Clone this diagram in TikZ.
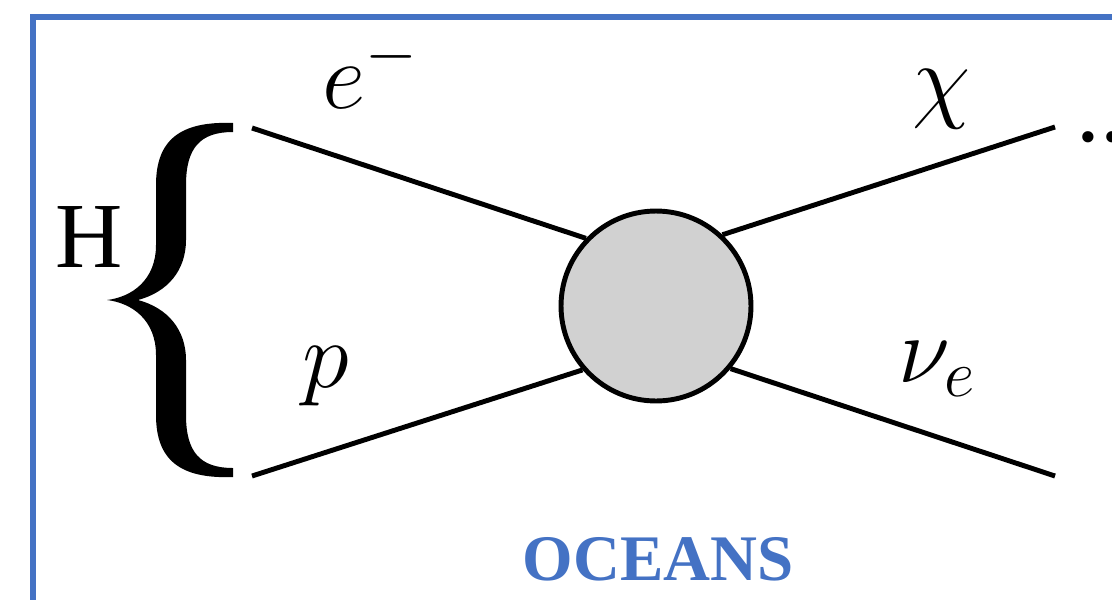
\RequirePackage{fix-cm}
\documentclass[tikz,border=0pt]{standalone}
\usepackage{fontspec}
\setmainfont{Liberation Serif}
\definecolor{frameblue}{RGB}{68,114,196}
\tikzset{
  leg/.style={line width=2.8pt, black},
  lbl/.style={inner sep=0pt, anchor=base west, font=\fontsize{54}{60}\selectfont},
}
\begin{document}
\begin{tikzpicture}[x=0.02cm, y=-0.02cm]
			% page and frame
			\useasboundingbox (0,0) rectangle (1112,599);
			\clip (0,0) rectangle (1112,599);
			\draw[frameblue, line width=3.4pt] (33,17) rectangle (1140,630);

			% the blob in the middle
			\node[circle, draw=black, fill=black!18, line width=2.8pt, inner sep=0pt, minimum size=3.8cm] (blob) at (656,306) {};

			% free ends of the legs
			\coordinate (ein) at (252,128);
			\coordinate (pin) at (252,476);
			\coordinate (chiout) at (1055,127);
			\coordinate (nuout) at (1055,476);

			% draw the legs
			\draw[leg] (ein) -- (blob.136);
			\draw[leg] (pin) -- (blob.221);
			\draw[leg] (blob.47) -- (chiout);
			\draw[leg] (blob.320) -- (nuout);

			% particle labels
			\node[lbl] (elab) at (322,108) {$e^-$};
			\node[lbl] (plab) at (302,387) {$p$};
			\node[lbl] (chilab) at (912,110) {$\chi$};
			\node[lbl] (nulab) at (898,382) {$\nu_e$};
			\node[lbl] (dots) at (1076,141) {...};

			% the brace and H
			\fill (233,123) .. controls (180,121) and (156,140) .. (156,185) -- (156,245)
			  .. controls (156,280) and (132,297) .. (107,300)
			  .. controls (132,303) and (156,320) .. (156,355) -- (156,415)
			  .. controls (156,460) and (180,479) .. (233,477) -- (233,468)
			  .. controls (200,468) and (186,452) .. (186,415) -- (186,360)
			  .. controls (186,330) and (168,308) .. (138,300)
			  .. controls (168,292) and (186,270) .. (186,240) -- (186,185)
			  .. controls (186,148) and (200,132) .. (233,132) -- cycle;
			\node[lbl, font=\fontsize{53}{60}\selectfont] (hlab) at (55,267) {H};

			% caption
			\node[inner sep=0pt, anchor=base, text=frameblue, font=\fontsize{37}{44}\selectfont\bfseries] (ocean) at (658,580) {OCEANS};
		\end{tikzpicture}
\end{document}
